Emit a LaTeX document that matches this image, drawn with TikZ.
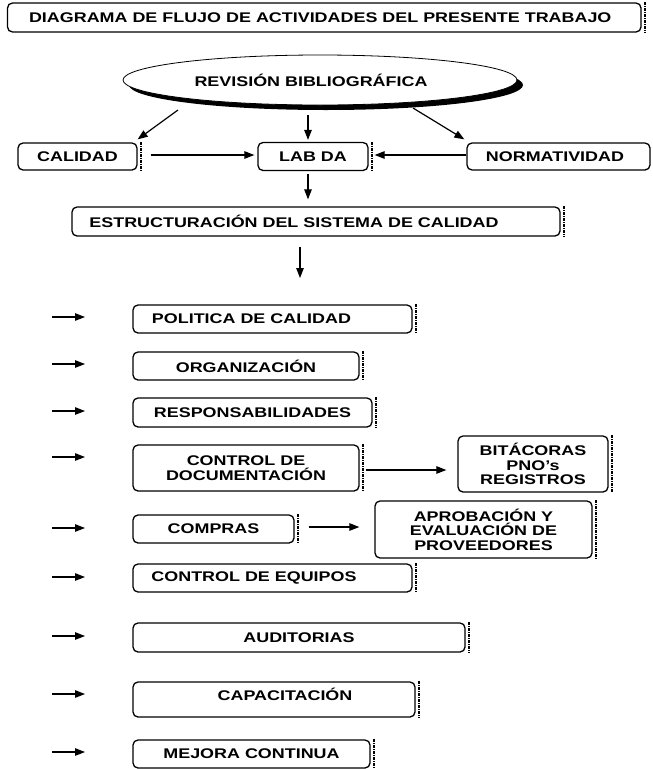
\documentclass[tikz,border=0pt]{standalone}
\usepackage{fontspec}
\setmainfont{Liberation Sans}[FakeStretch=1.28]
\usetikzlibrary{arrows.meta,shapes.geometric,shadows}
\tikzset{
  txt/.style={font=\fontsize{14}{14.5}\selectfont\bfseries},
  box/.style={draw, line width=1.3pt, rounded corners=5pt, fill=white, inner sep=0pt, txt, align=center},
  arr/.style={line width=1.2pt, -{Triangle[length=10pt,width=7.5pt]}},
  edgemark/.style={line width=1.7pt, dash pattern=on 3pt off 0.8pt on 1.2pt off 1pt},
}
\begin{document}
\begin{tikzpicture}[x=1pt,y=-1pt]
\useasboundingbox (0,0) rectangle (653,769);
% title
\node[box, minimum width=633.5pt, minimum height=29pt] (title) at (324.25,17.5) {DIAGRAMA DE FLUJO DE ACTIVIDADES DEL PRESENTE TRABAJO\hspace*{8pt}};
% ellipse
\node[ellipse, draw, line width=0.8pt, fill=white, minimum width=394pt, minimum height=50pt, inner sep=0pt, txt,
      drop shadow={shadow xshift=6pt, shadow yshift=-5pt, opacity=1, fill=black}] (rev) at (320,80) {REVISIÓN BIBLIOGRÁFICA\hspace*{18pt}};
% row
\node[box, minimum width=119pt, minimum height=27pt] (cal) at (77.5,156.5) {CALIDAD};
\node[box, minimum width=110pt, minimum height=28pt] (lab) at (313,156.5) {LAB DA};
\node[box, minimum width=183pt, minimum height=27pt] (norm) at (558.5,156.5) {NORMATIVIDAD\hspace*{7pt}};
\node[box, minimum width=488pt, minimum height=29pt] (est) at (316,221.5) {ESTRUCTURACIÓN DEL SISTEMA DE CALIDAD\hspace*{44pt}};
% list
\node[box, minimum width=279pt, minimum height=28pt] (pol) at (272.5,319) {POLITICA DE CALIDAD\hspace*{42pt}};
\node[box, minimum width=226pt, minimum height=28pt] (org) at (246,366) {ORGANIZACIÓN};
\node[box, minimum width=239pt, minimum height=29pt] (resp) at (252.5,412.5) {RESPONSABILIDADES};
\node[box, minimum width=226pt, minimum height=46pt] (cd) at (246,468) {CONTROL DE\\DOCUMENTACIÓN};
\node[box, minimum width=150pt, minimum height=56pt] (bit) at (533,464) {BITÁCORAS\\PNO's\\REGISTROS};
\node[box, minimum width=161pt, minimum height=28pt] (comp) at (213.5,529) {COMPRAS};
\node[box, minimum width=217pt, minimum height=57pt] (apr) at (483.5,529.5) {APROBACIÓN Y\\EVALUACIÓN DE\\PROVEEDORES};
\node[box, minimum width=279pt, minimum height=28pt] (ce) at (272.5,578) {CONTROL DE EQUIPOS\hspace*{37pt}};
\node[box, minimum width=332pt, minimum height=29pt] (aud) at (299,637.5) {AUDITORIAS};
\node[box, minimum width=282pt, minimum height=35pt, text height=10pt, text depth=9pt] (cap) at (274,699.5) {\hspace*{22pt}CAPACITACIÓN};
\node[box, minimum width=237pt, minimum height=28pt] (mej) at (251.5,754) {MEJORA CONTINUA};
% edge marks
\foreach \n in {title,cal,lab,est,pol,org,resp,cd,bit,comp,apr,ce,aud,cap,mej}
  \draw[edgemark] ([xshift=3.5pt]\n.north east) -- ([xshift=3.5pt]\n.south east);
% connectors
\draw[arr] ([shift={(-142pt,-30pt)}]rev.center) -- ([yshift=3pt]cal.north east);
\draw[arr] ([shift={(-12pt,-35pt)}]rev.center) -- ([shift={(-5pt,2pt)}]lab.north);
\draw[arr] ([shift={(93pt,-28pt)}]rev.center) -- ([shift={(-2pt,3pt)}]norm.north west);
\draw[arr] ([xshift=13pt,yshift=1.5pt]cal.east) -- ([xshift=-3pt,yshift=1.5pt]lab.west);
\draw[arr] ([yshift=1.5pt]norm.west) -- ([xshift=6pt,yshift=1.5pt]lab.east);
\draw[arr] ([xshift=-5pt,yshift=-3pt]lab.south) -- ([xshift=-8pt,yshift=7pt]est.north);
\coordinate (estdn) at (300,278);
\draw[arr] ([xshift=-16pt,yshift=-10pt]est.south) -- (estdn);
\draw[arr] ([xshift=6pt,yshift=-2pt]cd.east) -- ([xshift=-11pt,yshift=-6pt]bit.west);
\draw[arr] ([xshift=14pt,yshift=2pt]comp.east) -- ([xshift=-15pt,yshift=2.5pt]apr.west);
% left arrows
\foreach \yy [count=\i] in {317,364,411,457,528,577,636,694,752}{
  \coordinate (ls\i) at (52,\yy);
  \coordinate (le\i) at (85,\yy);
  \draw[arr] (ls\i) -- (le\i);
}
\end{tikzpicture}
\end{document}
